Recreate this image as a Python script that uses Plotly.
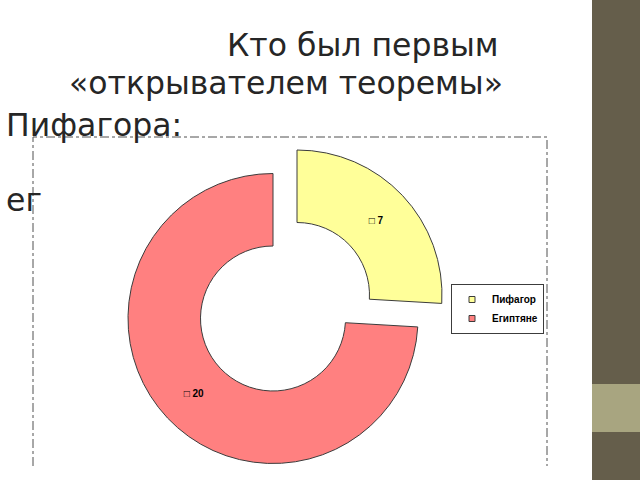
"""Donut chart: who first discovered the Pythagorean theorem (slide recreation)."""
import plotly.graph_objects as go

# Data
LABELS = ['Пифагор', 'Египтяне']
VALUES = [7, 20]
COLOURS = ['#FFFF99', '#FF8080']

TITLE_LINES = ['Кто был первым', '«открывателем теоремы»']
BODY_LINES = ['Пифагора:', 'ег']

W, H = 640, 480
OUTLINE = '#3c3c3c'
CLEAR = 'rgba(0,0,0,0)'


def px_domain(cx: float, cy: float, r: float) -> dict:
    """Return a pie domain (paper fractions) for a pie of radius r centred at pixel (cx, cy)."""
    return {'x': [(cx - r) / W, (cx + r) / W],
            'y': [1 - (cy + r) / H, 1 - (cy - r) / H]}


def ring_trace(shown: int, domain: dict) -> go.Pie:
    """One pie trace where only slice `shown` is painted (lets one slice sit apart)."""
    colours = [c if i == shown else CLEAR for i, c in enumerate(COLOURS)]
    lines = [OUTLINE if i == shown else CLEAR for i in range(len(VALUES))]
    templates = ['□ %{value}' if i == shown else '' for i in range(len(VALUES))]
    return go.Pie(labels=LABELS, values=VALUES, sort=False, direction='clockwise',
                  rotation=0, hole=0.5, domain=domain,
                  marker=dict(colors=colours, line=dict(color=lines, width=1)),
                  texttemplate=templates, textposition='inside',
                  insidetextorientation='horizontal',
                  textfont=dict(family='Liberation Sans', size=10, color='black', weight='bold'),
                  hoverinfo='skip', showlegend=False)


fig = go.Figure()

# red ring in place, yellow slice pulled out up and to the right
fig.add_trace(ring_trace(1, px_domain(273, 318.5, 145)))
fig.add_trace(ring_trace(0, px_domain(297, 295, 145)))

# legend entries
for label, colour in zip(LABELS, COLOURS):
    fig.add_trace(go.Scatter(x=[None], y=[None], mode='markers', name=label,
                             marker=dict(symbol='square', size=6, color=colour,
                                         line=dict(color=OUTLINE, width=1))))

# slide decoration: side strip and chart frame
fig.add_shape(type='rect', x0=592, x1=640, y0=0, y1=480, layer='below',
              fillcolor='#655E4B', line_width=0)
fig.add_shape(type='rect', x0=592, x1=640, y0=384, y1=432, layer='below',
              fillcolor='#A8A580', line_width=0)
fig.add_shape(type='path', path='M33,466 L33,137 L547,137 L547,466', layer='below',
              fillcolor='white', line=dict(color='#505050', width=1, dash='dashdot'))

text_font = dict(family='DejaVu Sans', size=31.5, color='#262626')
fig.add_annotation(x=363, y=45, text=TITLE_LINES[0], showarrow=False, font=text_font)
fig.add_annotation(x=286, y=83, text=TITLE_LINES[1], showarrow=False, font=text_font)
fig.add_annotation(x=4, y=125, text=BODY_LINES[0], showarrow=False, xanchor='left',
                   font=text_font)
fig.add_annotation(x=4, y=200, text=BODY_LINES[1], showarrow=False, xanchor='left',
                   font=text_font)

# axes map straight onto screen pixels
fig.update_xaxes(range=[0, W], visible=False, fixedrange=True)
fig.update_yaxes(range=[H, 0], visible=False, fixedrange=True)
fig.update_layout(
    width=W, height=H, margin=dict(l=0, r=0, t=0, b=0),
    paper_bgcolor='white', plot_bgcolor='rgba(0,0,0,0)',
    legend=dict(x=544 / W, y=1 - 284 / H, xanchor='right', yanchor='top',
                bgcolor='white', bordercolor=OUTLINE, borderwidth=1,
                itemwidth=30, tracegroupgap=0,
                font=dict(family='Liberation Sans', size=10, color='black', weight='bold')),
)

# drop the default page margin so the figure fills the window exactly
fig.write_html('out.html', config={'displayModeBar': False},
               post_script="document.body.style.margin='0';"
                           "document.body.style.overflow='hidden';")
